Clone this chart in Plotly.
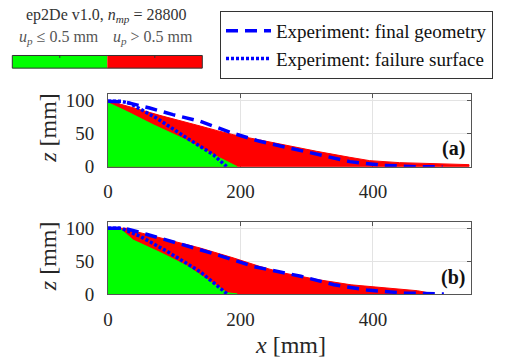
import plotly.graph_objects as go

# ---------------- data (mm) ----------------
# (a) simulation: outer profile of all material points (red) and of u_p <= 0.5 mm points (green)
a_red_x = [0, 10, 28, 50, 78, 110, 139, 165, 189, 214, 229, 264, 315, 365, 395, 440, 490, 520, 545, 545]
a_red_z = [99, 96, 91, 85, 77, 68, 61, 54, 48, 43, 40, 33, 23, 14, 9, 6, 5, 4, 3, 0]
a_grn_x = [0, 30, 68, 118, 159, 189, 195]
a_grn_z = [96, 82, 63, 40, 18, 2, 0]
# (a) experiment
a_fin_x = [0, 25, 63, 98, 139, 189, 229, 264, 330, 365, 415, 465, 505]
a_fin_z = [98, 97, 88, 78, 68, 50, 38, 30, 15, 7.5, 2, 0, 0]
a_fail_x = [0, 20, 33, 73, 119, 159, 179]
a_fail_z = [98, 98, 95, 73, 43, 18, 0]

# (b) simulation
b_red_x = [0, 30, 38, 89, 139, 189, 229, 265, 316, 367, 417, 467, 483, 487]
b_red_z = [100, 100, 96, 83, 70, 55, 42, 32, 22, 14, 9, 5, 2, 0]
b_grn_x = [0, 20, 38, 79, 119, 160, 180, 195]
b_grn_z = [98, 98, 82, 63, 43, 16, 2, 0]
# (b) experiment
b_fin_x = [0, 25, 58, 114, 164, 219, 245, 291, 341, 391, 447, 480, 507]
b_fin_z = [100, 100, 91, 75, 60, 42, 37, 27, 14, 6, 1.5, 0, 0]
b_fail_x = [0, 20, 48, 89, 139, 180]
b_fail_z = [100, 100, 88, 65, 34, 0]

x_ticks = [0, 200, 400]
z_ticks = [0, 50, 100]
panel_labels = ["<b>(a)</b>", "<b>(b)</b>"]
header_text = "ep2De v1.0, <i>n</i><sub><i>mp</i></sub> = 28800"
class_labels = ["<i>u</i><sub><i>p</i></sub> ≤ 0.5 mm", "<i>u</i><sub><i>p</i></sub> > 0.5 mm"]
class_colors = ["#00FF00", "#FF0000"]
exp_names = ["Experiment: final geometry", "Experiment: failure surface"]

FONT = "Liberation Serif"
TXT = "#262626"
W, H = 505, 361
ML, MR, MT, MB = 108, 34, 93, 67
PW, PH = W - ML - MR, H - MT - MB


def px(xp):
    return (xp - ML) / PW


def py(yp):
    return 1 - (yp - MT) / PH


fig = go.Figure()

panels = [
    ("x", "y", a_red_x, a_red_z, a_grn_x, a_grn_z, a_fin_x, a_fin_z, a_fail_x, a_fail_z, True),
    ("x2", "y2", b_red_x, b_red_z, b_grn_x, b_grn_z, b_fin_x, b_fin_z, b_fail_x, b_fail_z, False),
]
for xa, ya, rx, rz, gx, gz, fx, fz, sx, sz, leg in panels:
    fig.add_trace(go.Scatter(x=rx + [0], y=rz + [0], fill="toself", fillcolor=class_colors[1],
                             mode="lines", line=dict(color=class_colors[1], width=1),
                             xaxis=xa, yaxis=ya, showlegend=False, hoverinfo="skip"))
    fig.add_trace(go.Scatter(x=gx + [0], y=gz + [0], fill="toself", fillcolor=class_colors[0],
                             mode="lines", line=dict(color=class_colors[0], width=1),
                             xaxis=xa, yaxis=ya, showlegend=False, hoverinfo="skip"))
    fig.add_trace(go.Scatter(x=fx, y=fz, mode="lines", name=exp_names[0],
                             line=dict(color="#0000FF", width=3.5, dash="12px,7px"),
                             xaxis=xa, yaxis=ya, showlegend=leg, legendgroup="fin"))
    fig.add_trace(go.Scatter(x=sx, y=sz, mode="lines", name=exp_names[1],
                             line=dict(color="#0000FF", width=3.5, dash="3px,2px"),
                             xaxis=xa, yaxis=ya, showlegend=leg, legendgroup="fail"))

ax_common = dict(showline=True, linecolor="#555555", linewidth=1, mirror="ticks",
                 ticks="inside", ticklen=4, tickcolor="#555555", showgrid=True,
                 gridcolor="#e3e3e3", gridwidth=1, zeroline=False, layer="below traces",
                 tickfont=dict(family=FONT, size=19, color=TXT), fixedrange=True)

fig.update_layout(
    width=W, height=H, margin=dict(l=ML, r=MR, t=MT, b=MB),
    paper_bgcolor="white", plot_bgcolor="white",
    font=dict(family=FONT, color=TXT),
    xaxis=dict(domain=[0, 1], range=[0, 548], tickvals=x_ticks, anchor="y",
               ticklabelstandoff=8, **ax_common),
    yaxis=dict(domain=[1 - 73 / PH, 1], range=[0, 109], tickvals=z_ticks, anchor="x",
               ticklabelstandoff=9, **ax_common),
    xaxis2=dict(domain=[0, 1], range=[0, 548], tickvals=x_ticks, anchor="y2",
                ticklabelstandoff=8, **ax_common),
    yaxis2=dict(domain=[0, 72 / PH], range=[0, 109], tickvals=z_ticks, anchor="x2",
                ticklabelstandoff=9, **ax_common),
    legend=dict(x=px(220), y=py(11), xanchor="left", yanchor="top",
                bgcolor="white", bordercolor="#333333", borderwidth=1,
                font=dict(family=FONT, size=19, color="#111111"),
                itemwidth=45, tracegroupgap=0),
    showlegend=True,
)

ann = []
# axis titles
ann.append(dict(text="<i>x</i> [mm]", x=px(290), y=py(345), xref="paper", yref="paper",
                showarrow=False, xanchor="center", yanchor="middle",
                font=dict(family=FONT, size=24, color=TXT)))
for yc in (127, 256):
    ann.append(dict(text="<i>z</i> [mm]", x=px(48), y=py(yc), xref="paper", yref="paper",
                    showarrow=False, xanchor="center", yanchor="middle", textangle=-90,
                    font=dict(family=FONT, size=24, color=TXT)))
# panel labels
for lab, yc in zip(panel_labels, (148, 277)):
    ann.append(dict(text=lab, x=px(467), y=py(yc), xref="paper", yref="paper",
                    showarrow=False, xanchor="right", yanchor="middle",
                    font=dict(family=FONT, size=20, color="#111111")))
# class legend text
ann.append(dict(text=header_text, x=px(106), y=py(14), xref="paper", yref="paper",
                showarrow=False, xanchor="center", yanchor="middle",
                font=dict(family=FONT, size=16, color="#333333")))
for lab, xc in zip(class_labels, (59, 152.5)):
    ann.append(dict(text=lab, x=px(xc), y=py(36), xref="paper", yref="paper",
                    showarrow=False, xanchor="center", yanchor="middle",
                    font=dict(family=FONT, size=16, color="#555555")))
fig.update_layout(annotations=ann)

# class colour bar
shapes = []
bx = [12.3, 107.3, 202.3]
for i, c in enumerate(class_colors):
    shapes.append(dict(type="rect", xref="paper", yref="paper",
                       x0=px(bx[i]), x1=px(bx[i + 1]), y0=py(67), y1=py(54.3),
                       fillcolor=c, line=dict(width=0)))
shapes.append(dict(type="rect", xref="paper", yref="paper", x0=px(bx[0]), x1=px(bx[2]),
                   y0=py(67), y1=py(54.3), line=dict(color="#333333", width=1)))
for xt in ((bx[0] + bx[1]) / 2, (bx[1] + bx[2]) / 2):
    shapes.append(dict(type="line", xref="paper", yref="paper", x0=px(xt), x1=px(xt),
                       y0=py(54.3), y1=py(56.8), line=dict(color="#333333", width=1)))
fig.update_layout(shapes=shapes)

fig.write_html("out.html")
